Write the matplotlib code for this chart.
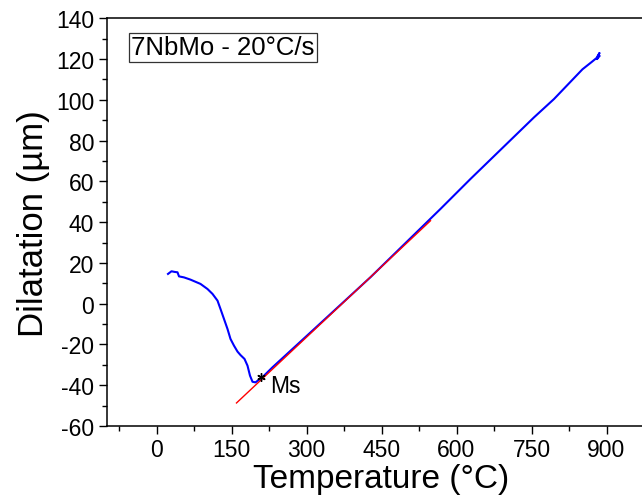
import matplotlib

matplotlib.use("Agg")
import matplotlib.pyplot as plt
from matplotlib.ticker import MultipleLocator

plt.rcParams["font.family"] = ["Liberation Sans", "DejaVu Sans"]
plt.rcParams["axes.unicode_minus"] = False

# measured dilatation curve (cooling at 20 C/s)
temp = [23, 30, 36, 42, 45, 55, 68, 88, 102, 112, 122, 128, 135, 142, 148, 155, 162, 168,
        176, 182, 187, 192, 198, 205, 215, 232, 300, 428, 568, 628, 755, 795, 852, 870,
        880, 886, 881, 886]
dil = [14.6, 15.9, 15.6, 15.4, 13.4, 12.9, 11.8, 9.7, 7.2, 4.8, 1.5, -2.6, -7.5, -12.4,
       -17.3, -20.6, -23.5, -25.2, -27.1, -30.4, -35.3, -38.3, -38.6, -37.3, -35.3, -31.2,
       -15.9, 13.0, 46.5, 61.2, 91.4, 100.4, 115.0, 118.5, 120.5, 123.0, 120.0, 121.5]

# linear fit of the austenite branch
fit_temp = [160, 548]
fit_dil = [-48.7, 40.7]

ms_temp, ms_dil = 208, -36.1

fig = plt.figure(figsize=(6.42, 5.02), dpi=100)
ax = fig.add_axes([106.5 / 642, 75 / 502, 550 / 642, 407.7 / 502])

ax.plot(temp, dil, color="#0000ff", lw=1.5)
ax.plot(fit_temp, fit_dil, color="#ff0000", lw=1.0)
ax.plot([ms_temp], [ms_dil], marker=(6, 2, 0), ms=6, mew=1.0, color="black", ls="none")
ax.text(228, -43.5, "Ms", fontsize=16.5, ha="left", va="baseline")

ax.text(0.045, 0.958, "7NbMo - 20°C/s", transform=ax.transAxes, fontsize=18.5,
        ha="left", va="top",
        bbox=dict(boxstyle="square,pad=0.1", fc="white", ec="#333333", lw=0.9))

ax.set_xlim(-100, 1000)
ax.set_ylim(-60, 140)
ax.xaxis.set_major_locator(MultipleLocator(150))
ax.xaxis.set_minor_locator(MultipleLocator(75))
ax.yaxis.set_major_locator(MultipleLocator(20))
ax.yaxis.set_minor_locator(MultipleLocator(10))
ax.tick_params(which="major", direction="out", length=6, width=1.0, labelsize=16.5, pad=3)
ax.tick_params(which="minor", direction="out", length=3.5, width=1.0)
ax.tick_params(top=False, right=False)
for s in ax.spines.values():
    s.set_linewidth(1.1)

ax.set_xlabel("Temperature (°C)", fontsize=24, labelpad=1)
ax.set_ylabel("Dilatation (µm)", fontsize=25, labelpad=4)

fig.savefig("out.png", dpi=100)
